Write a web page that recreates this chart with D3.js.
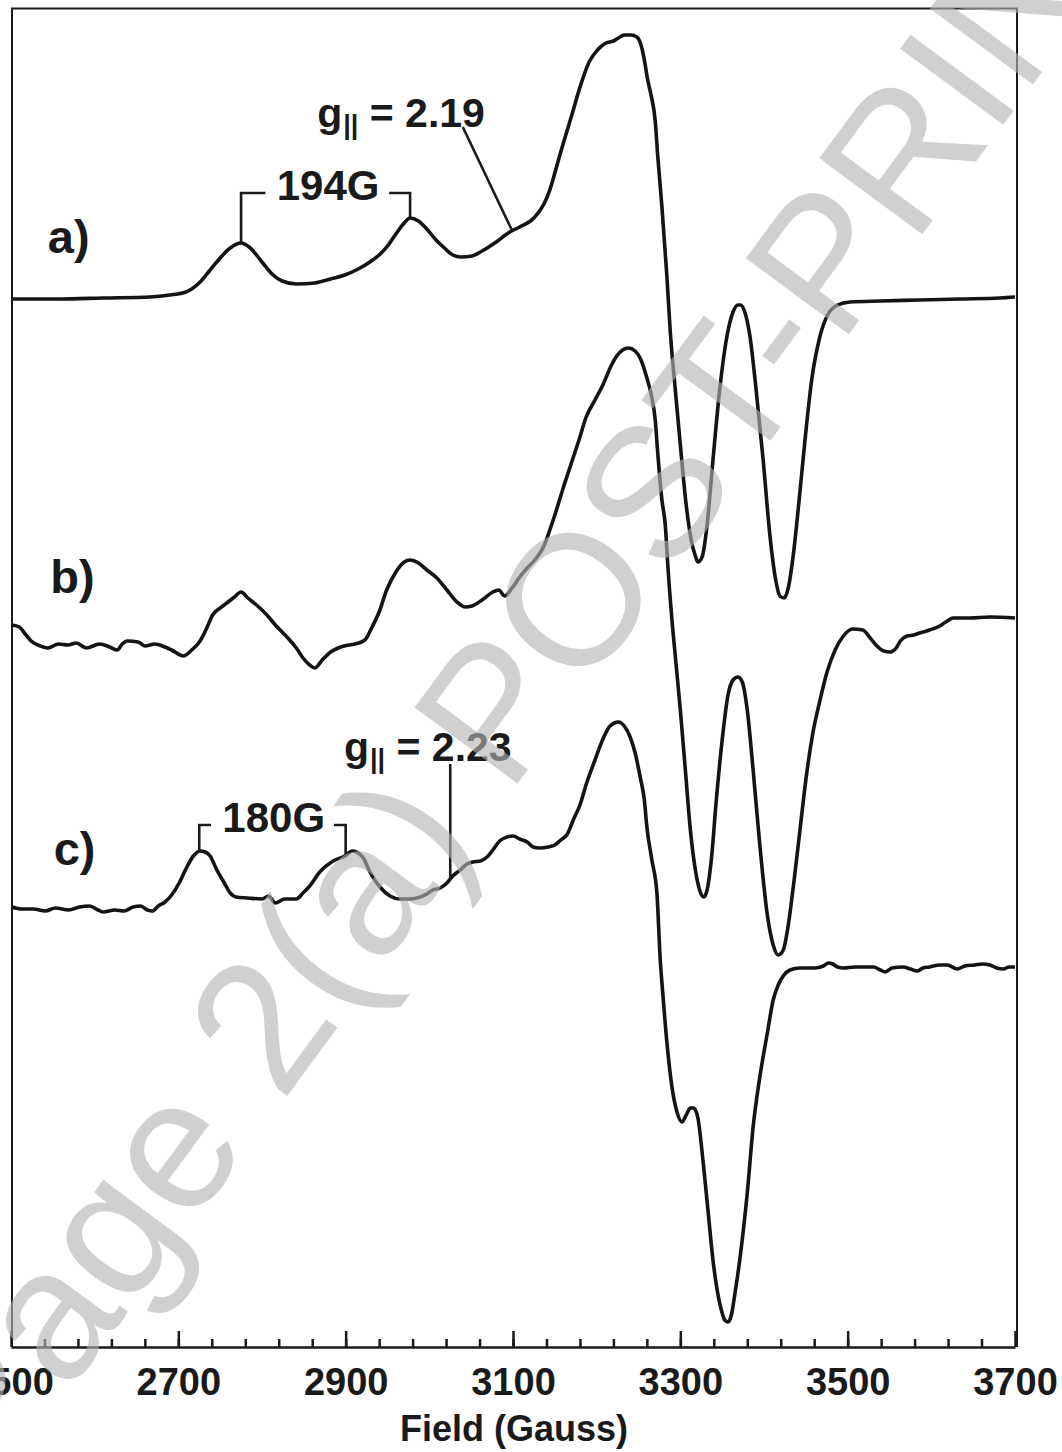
<!DOCTYPE html>
<html>
<head>
<meta charset="utf-8">
<script src="https://cdn.jsdelivr.net/npm/d3@7"></script>
<style>
  body { margin: 0; background: #fff; }
  text { font-family: "Liberation Sans", Arial, sans-serif; }
</style>
</head>
<body>
<svg width="1062" height="1452"></svg>
<script>
// EPR spectra, field in Gauss, intensity in arbitrary units relative to each trace's baseline
const traceA = [
  [2501,1],[2559,1],[2610,2],[2666,3],[2690,5],[2709,8],[2726,18],[2738,30],[2750,42],[2762,52],
  [2775,57],[2786,52],[2800,38],[2812,26],[2824,19],[2841,16],[2863,17],[2882,21],[2899,25],[2915,31],
  [2929,38],[2940,45],[2951,55],[2960,66],[2969,76],[2977,82],[2987,79],[2997,71],[3008,60],[3018,52],
  [3028,45],[3038,43],[3051,44],[3063,49],[3080,58],[3096,68],[3108,73],[3125,82],[3137,96],[3144,110],
  [3150,127],[3156,145],[3162,162],[3171,187],[3179,210],[3191,238],[3201,250],[3211,257],[3220,259],
  [3226,262],[3233,265],[3241,265],[3248,263],[3253,255],[3257,240],[3261,220],[3265,205],[3270,179],
  [3273,144],[3278,93],[3284,23],[3288,-32],[3294,-90],[3300,-145],[3307,-205],[3313,-240],[3318,-256],
  [3321,-262],[3326,-257],[3332,-225],[3339,-160],[3347,-90],[3356,-35],[3363,-12],[3369,-5],[3372,-5],
  [3377,-12],[3383,-35],[3390,-85],[3399,-160],[3407,-235],[3414,-280],[3419,-296],[3424,-298],[3429,-288],
  [3435,-255],[3442,-200],[3449,-140],[3457,-80],[3467,-36],[3476,-15],[3488,-5],[3503,-2],[3539,-1],
  [3586,0],[3634,1],[3682,2],[3700,3]
];

const traceB = [
  [2501,0],[2510,-2],[2517,-9],[2524,-16],[2535,-21],[2544,-23],[2557,-19],[2568,-20],[2578,-18],[2590,-23],
  [2606,-19],[2618,-22],[2627,-25],[2633,-19],[2639,-16],[2652,-17],[2660,-21],[2672,-19],[2684,-22],[2692,-25],
  [2706,-31],[2716,-25],[2726,-16],[2734,-3],[2741,10],[2750,17],[2758,22],[2767,28],[2775,33],[2783,27],
  [2792,21],[2800,15],[2808,8],[2816,0],[2824,-7],[2832,-14],[2841,-23],[2849,-33],[2857,-40],[2863,-43],
  [2872,-35],[2882,-27],[2891,-23],[2898,-21],[2911,-19],[2923,-15],[2931,-3],[2940,13],[2949,35],[2960,53],
  [2970,63],[2977,65],[2987,62],[2997,55],[3009,47],[3021,35],[3033,23],[3043,18],[3051,19],[3063,25],
  [3076,33],[3083,35],[3090,29],[3099,37],[3108,48],[3117,57],[3126,65],[3137,79],[3144,95],[3150,110],
  [3160,137],[3171,165],[3180,188],[3187,207],[3198,225],[3208,241],[3216,257],[3224,269],[3231,275],
  [3238,277],[3246,274],[3253,265],[3259,250],[3265,231],[3270,205],[3273,172],[3278,125],[3282,100],
  [3285,60],[3290,5],[3295,-40],[3300,-85],[3306,-145],[3312,-205],[3318,-245],[3323,-265],[3328,-272],
  [3332,-265],[3337,-235],[3343,-175],[3350,-115],[3357,-70],[3363,-55],[3369,-52],[3374,-57],[3380,-85],
  [3387,-145],[3395,-220],[3404,-290],[3411,-320],[3417,-330],[3423,-325],[3429,-300],[3436,-255],
  [3443,-205],[3450,-155],[3458,-110],[3467,-75],[3475,-48],[3485,-25],[3494,-12],[3506,-4],[3518,-5],
  [3527,-13],[3535,-21],[3543,-26],[3551,-27],[3558,-23],[3563,-16],[3571,-11],[3579,-10],[3586,-8],
  [3598,-5],[3610,-1],[3619,4],[3626,7],[3646,7],[3670,8],[3700,7]
];

const traceC = [
  [2501,2],[2513,0],[2527,0],[2541,-2],[2553,1],[2569,-1],[2582,2],[2594,3],[2604,-1],[2610,-3],
  [2624,-1],[2635,-2],[2646,2],[2655,3],[2663,-1],[2669,-2],[2676,3],[2684,7],[2692,14],[2701,26],
  [2709,40],[2718,53],[2726,58],[2732,57],[2738,53],[2746,39],[2755,26],[2762,16],[2769,12],[2783,11],
  [2800,10],[2808,13],[2816,6],[2827,10],[2841,10],[2849,16],[2857,23],[2869,37],[2885,48],[2899,53],
  [2908,58],[2915,56],[2921,51],[2929,37],[2941,22],[2953,13],[2965,10],[2977,10],[2985,11],[2997,15],
  [3004,19],[3013,21],[3021,26],[3028,33],[3037,39],[3045,45],[3052,47],[3061,48],[3069,52],[3076,59],
  [3084,68],[3093,72],[3100,73],[3108,70],[3117,67],[3124,62],[3132,61],[3142,62],[3150,64],[3157,69],
  [3165,75],[3172,89],[3180,104],[3188,126],[3198,149],[3208,171],[3216,183],[3226,187],[3233,183],
  [3240,172],[3246,156],[3252,132],[3257,109],[3260,82],[3266,49],[3272,16],[3276,-51],[3279,-84],
  [3284,-134],[3290,-178],[3296,-203],[3302,-213],[3307,-206],[3312,-199],[3316,-199],[3321,-209],
  [3327,-251],[3333,-301],[3339,-351],[3344,-381],[3349,-401],[3353,-411],[3357,-413],[3361,-406],
  [3365,-386],[3371,-351],[3380,-284],[3387,-218],[3395,-168],[3404,-124],[3411,-91],[3417,-76],
  [3423,-67],[3431,-61],[3443,-59],[3461,-59],[3471,-57],[3477,-54],[3482,-55],[3488,-58],[3495,-59],
  [3509,-58],[3521,-58],[3531,-58],[3539,-61],[3545,-63],[3553,-59],[3566,-58],[3575,-60],[3583,-62],
  [3590,-59],[3598,-58],[3610,-56],[3619,-56],[3625,-58],[3631,-60],[3640,-57],[3652,-56],[3661,-55],
  [3670,-56],[3678,-59],[3686,-60],[3693,-58],[3700,-58]
];

const traceNames = ['a', 'b', 'c'];
const traceOffsets = [1047, 722, 438];
const majorTicks = [2500, 2700, 2900, 3100, 3300, 3500, 3700];
const minorTicks = d3.range(2540, 3700, 40);

const traceLabels = [
  {trace: 0, text: 'a)', field: 2544, value: 47},
  {trace: 1, text: 'b)', field: 2547, value: 32},
  {trace: 2, text: 'c)', field: 2551, value: 44}
];

const splittings = [
  {trace: 0, text: '194G', from: 2775, to: 2977, armFrom: 2804, armTo: 2952,
   top: 107, fromValue: 57, toValue: 82, textField: 2879},
  {trace: 2, text: '180G', from: 2725, to: 2900, armFrom: 2739, armTo: 2886,
   top: 84, fromValue: 58, toValue: 53, textField: 2814}
];

const gParallel = [
  {trace: 0, text: '2.19', textField: 2866, textValue: 173, x1: 3040, v1: 173, x2: 3098, v2: 71},
  {trace: 2, text: '2.23', textField: 2898, textValue: 148, x1: 3025, v1: 145, x2: 3025, v2: 31}
];

const svg = d3.select('svg');
const width = +svg.attr('width');
const height = +svg.attr('height');

const xScale = d3.scaleLinear().domain([2500, 3700]).range([11, 1015]);
const yScale = d3.scaleLinear().domain([0, 1339]).range([1347, 8]);
const yOf = (trace, v) => yScale(traceOffsets[trace] + v);

// frame
svg.append('path')
  .attr('d', `M${xScale(2500) + 1},1347 V8.5 H${xScale(3700) + 2} V1347`)
  .attr('fill', 'none')
  .attr('stroke', '#1a1a1a')
  .attr('stroke-width', 2);

const axisG = svg.append('g').attr('transform', 'translate(0,1347)');

const minorAxis = d3.axisBottom(xScale)
  .tickValues(minorTicks)
  .tickSize(-8)
  .tickSizeOuter(0)
  .tickFormat('');

const majorAxis = d3.axisBottom(xScale)
  .tickValues(majorTicks)
  .tickSize(-16)
  .tickSizeOuter(0)
  .tickFormat(d3.format('d'));

axisG.append('g').call(minorAxis).selectAll('.domain').remove();
axisG.append('g').call(majorAxis);

axisG.selectAll('path, line')
  .attr('stroke', '#1a1a1a')
  .attr('stroke-width', 2.5);
axisG.selectAll('.tick text')
  .attr('font-size', 38)
  .attr('font-weight', 'bold')
  .attr('fill', '#1a1a1a')
  .attr('dy', 0)
  .attr('y', 48);

svg.append('text')
  .attr('x', 514)
  .attr('y', 1441)
  .attr('text-anchor', 'middle')
  .attr('font-size', 36)
  .attr('font-weight', 'bold')
  .attr('fill', '#1a1a1a')
  .text('Field (Gauss)');

// spectra
[traceA, traceB, traceC].forEach((data, i) => {
  const line = d3.line()
    .x(d => xScale(d[0]))
    .y(d => yOf(i, d[1]))
    .curve(d3.curveMonotoneX);
  svg.append('path')
    .datum(data)
    .attr('fill', 'none')
    .attr('stroke', '#141414')
    .attr('stroke-width', 3.6)
    .attr('stroke-linejoin', 'round')
    .attr('d', line);
});

svg.selectAll('.trace-label').data(traceLabels)
  .enter().append('text')
    .attr('class', 'trace-label')
    .attr('x', d => xScale(d.field))
    .attr('y', d => yOf(d.trace, d.value))
    .attr('font-size', 47)
    .attr('font-weight', 'bold')
    .attr('fill', '#1a1a1a')
    .text(d => d.text);

// hyperfine splitting brackets
splittings.forEach(s => {
  const top = yOf(s.trace, s.top);
  svg.append('path')
    .attr('d', `M${xScale(s.from)},${yOf(s.trace, s.fromValue)} V${top} H${xScale(s.armFrom)}` +
               `M${xScale(s.armTo)},${top} H${xScale(s.to)} V${yOf(s.trace, s.toValue)}`)
    .attr('fill', 'none')
    .attr('stroke', '#1a1a1a')
    .attr('stroke-width', 2.6);
  svg.append('text')
    .attr('x', xScale(s.textField))
    .attr('y', top + 7)
    .attr('text-anchor', 'middle')
    .attr('font-size', 42)
    .attr('font-weight', 'bold')
    .attr('fill', '#1a1a1a')
    .text(s.text);
});

// g-parallel markers
gParallel.forEach(g => {
  svg.append('line')
    .attr('x1', xScale(g.x1)).attr('y1', yOf(g.trace, g.v1))
    .attr('x2', xScale(g.x2)).attr('y2', yOf(g.trace, g.v2))
    .attr('stroke', '#1a1a1a')
    .attr('stroke-width', 2.6);
  const t = svg.append('text')
    .attr('x', xScale(g.textField))
    .attr('y', yOf(g.trace, g.textValue))
    .attr('font-size', 41)
    .attr('font-weight', 'bold')
    .attr('fill', '#1a1a1a');
  t.append('tspan').text('g');
  t.append('tspan').attr('font-size', 27).attr('dy', 7).attr('dx', 1).text('||');
  t.append('tspan').attr('dy', -7).text(' = ' + g.text);
});

// watermark
svg.append('text')
  .attr('transform', 'translate(582,696) rotate(-53.6)')
  .attr('text-anchor', 'middle')
  .attr('font-size', 186)
  .attr('fill', '#b4b4b4')
  .attr('opacity', 0.62)
  .text('Page 2(a) POST-PRINT');
</script>
</body>
</html>
